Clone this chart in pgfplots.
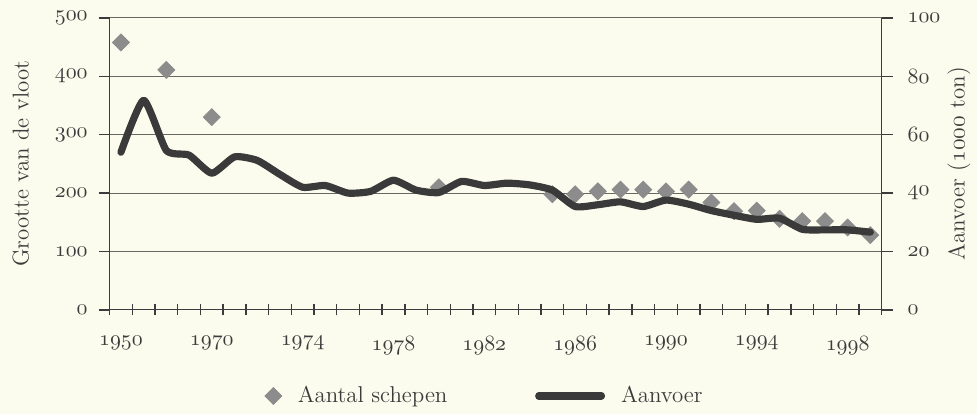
\documentclass[border=0pt]{standalone}
\usepackage{pgfplots}
\pgfplotsset{compat=1.18}
\usetikzlibrary{backgrounds,calc}
\definecolor{bgc}{RGB}{252,252,238}
\definecolor{txt}{RGB}{60,60,60}
\definecolor{linec}{RGB}{58,58,58}
\definecolor{diam}{RGB}{140,140,140}
\definecolor{gridc}{RGB}{105,105,100}
\newcommand{\osn}[1]{{\usefont{OML}{cmm}{m}{it}#1}}
\begin{document}
\begin{tikzpicture}[show background rectangle, inner frame sep=0pt, background rectangle/.style={fill=bgc,draw=none}]
\pgfplotsset{
 base/.style={scale only axis, width=387.5pt, height=146.5pt, xmin=-0.5, xmax=33.5, ymin=0,
  tick label style={font=\fontsize{10.95}{12}\selectfont, text=txt},
  label style={font=\fontsize{11.5}{13}\selectfont, text=txt},
  axis line style={txt, line width=0.6pt},
  major tick length=5.5pt,
  tick style={txt, line width=0.7pt},
 }
}
\begin{axis}[base, name=main, ymax=500,
 axis x line*=bottom, axis y line*=left,
 xtick={-0.5,0.5,...,33.5}, xticklabels={},
 xtick align=center,
 extra x ticks={0,4,...,32},
 extra x tick labels={\osn{1950},\osn{1970},\osn{1974},\osn{1978},\osn{1982},\osn{1986},\osn{1990},\osn{1994},\osn{1998}},
 extra x tick style={tick style={draw=none}, xticklabel style={yshift=-7pt}},
 ytick={0,100,...,500},
 yticklabels={\osn{0},\osn{100},\osn{200},\osn{300},\osn{400},\osn{500}},
 yticklabel style={xshift=-2pt},
 ytick align=outside,
 ymajorgrids, grid style={gridc, line width=0.5pt},
 ylabel={Grootte van de vloot},
 ylabel style={at={(axis description cs:-0.115,0.5)}, anchor=center},
]
\addplot[only marks, mark=square*, mark size=3pt, mark options={rotate=45, fill=diam, draw=diam}] coordinates {
(0,458)(2,411)(4,330)(14,210)(19,198)(20,198)(21,203)(22,206)(23,206)(24,203)(25,206)(26,184)(27,169)(28,170)(29,156)(30,152)(31,152)(32,141)(33,128)};
\end{axis}
\begin{axis}[base, ymax=100,
 axis x line=none, axis y line*=right,
 ytick={0,20,...,100},
 yticklabels={\osn{0},\osn{20},\osn{40},\osn{60},\osn{80},\osn{100}},
 yticklabel style={xshift=4pt},
 ytick align=outside,
 ylabel={Aanvoer (\osn{1000} ton)},
 ylabel style={at={(axis description cs:1.10,0.5)}, anchor=center},
 legend style={at={(axis description cs:0.495,-0.295)}, anchor=center, draw=none, fill=none,
  font=\fontsize{11.5}{13}\selectfont, text=txt, legend columns=2,
  nodes={inner xsep=8pt},
  /tikz/every even column/.append style={column sep=36pt}},
]
\addlegendimage{only marks, mark=square*, mark size=3pt, mark options={rotate=45, fill=diam, draw=diam}}
\addlegendentry{Aantal schepen}
\addplot[linec, line width=3.6pt, smooth, tension=0.35, line join=round, line cap=round,
 legend image code/.code={\draw[linec, line width=3.6pt, line cap=round] (0pt,0pt) -- (31.5pt,0pt);}] coordinates {
(0,54)(1,71.8)(2,54.6)(3,53)(4,46.8)(5,52.4)(6,51.2)(7,46.4)(8,42)(9,42.6)(10,40)(11,40.6)(12,44.4)(13,41)(14,40.2)(15,44)(16,42.6)(17,43.4)(18,42.8)(19,41)(20,35.4)(21,36)(22,37)(23,35.4)(24,37.6)(25,36.2)(26,34)(27,32.4)(28,31)(29,31.4)(30,27.6)(31,27.4)(32,27.4)(33,26.6)};
\addlegendentry{Aanvoer}
\end{axis}
\path (main.south west) ++(-55pt,-48.5pt) rectangle ($(main.north east)+(46pt,9pt)$);
\end{tikzpicture}
\end{document}
